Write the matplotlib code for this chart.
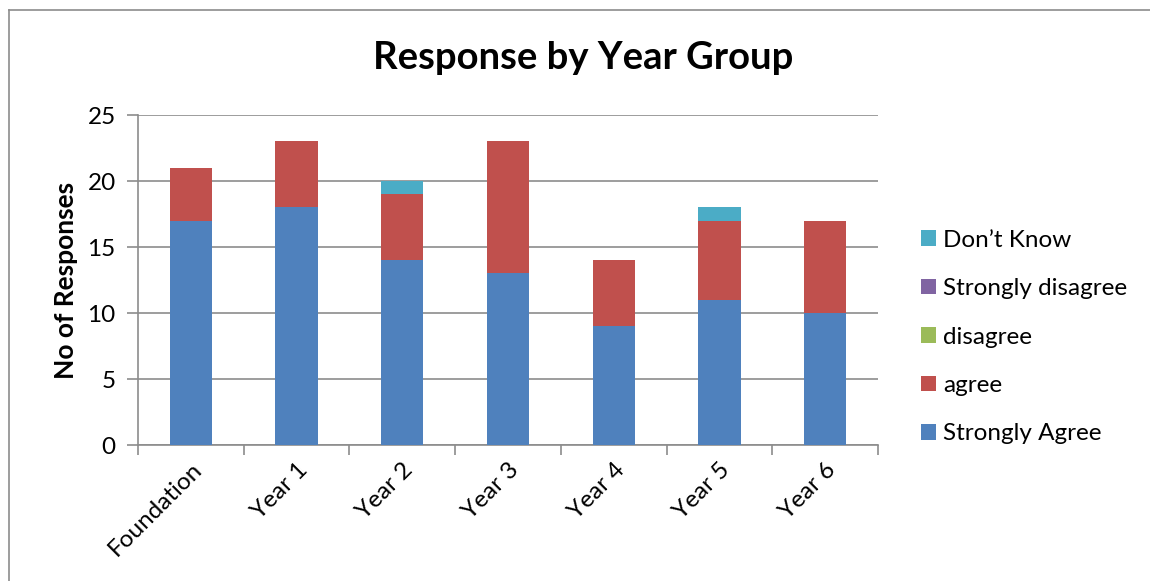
import matplotlib
matplotlib.use("Agg")
import matplotlib.pyplot as plt
from matplotlib.lines import Line2D

categories = ["Foundation", "Year 1", "Year 2", "Year 3", "Year 4", "Year 5", "Year 6"]
strongly_agree = [17, 18, 14, 13, 9, 11, 10]
agree = [4, 5, 5, 10, 5, 6, 7]
disagree = [0, 0, 0, 0, 0, 0, 0]
strongly_disagree = [0, 0, 0, 0, 0, 0, 0]
dont_know = [0, 0, 1, 0, 0, 1, 0]
series_names = ["Strongly Agree", "agree", "disagree", "Strongly disagree", "Don\u2019t Know"]
colors = ["#4F81BD", "#C0504D", "#9BBB59", "#8064A2", "#4BACC6"]

plt.rcParams['font.family'] = ['Lato', 'DejaVu Sans']

W, H = 1150, 581
fig = plt.figure(figsize=(W / 100, H / 100), dpi=100)
fig.patch.set_facecolor("white")

# outer chart border (only left and top visible)
fig.add_artist(Line2D([8.5 / W, 8.5 / W], [0, 1 - 9.5 / H], transform=fig.transFigure,
                      color="#8c8c8c", lw=1.2))
fig.add_artist(Line2D([8.5 / W, 1], [1 - 9.5 / H, 1 - 9.5 / H], transform=fig.transFigure,
                      color="#8c8c8c", lw=1.2))

left, right, top, bottom = 138, 878, 115, 445
ax = fig.add_axes([left / W, 1 - bottom / H, (right - left) / W, (bottom - top) / H])

x = list(range(len(categories)))
series = [strongly_agree, agree, disagree, strongly_disagree, dont_know]
base = [0] * len(categories)
handles = []
for vals, name, c in zip(series, series_names, colors):
    b = ax.bar(x, vals, bottom=base, width=0.4, color=c, label=name, zorder=3)
    handles.append(b)
    base = [p + q for p, q in zip(base, vals)]

ax.set_xlim(-0.5, len(categories) - 0.5)
ax.set_ylim(0, 25)
ax.set_yticks([0, 5, 10, 15, 20, 25])
ax.yaxis.grid(True, color="#8c8c8c", lw=1.2, zorder=0)
ax.set_axisbelow(True)
for s in ["top", "right"]:
    ax.spines[s].set_visible(False)
for s in ["left", "bottom"]:
    ax.spines[s].set_color("#8c8c8c")
    ax.spines[s].set_linewidth(1.2)

ax.tick_params(axis="y", length=8, width=1.2, color="#8c8c8c", labelsize=17.5, pad=8)
ax.set_xticks(x)
ax.set_xticklabels(categories, rotation=45, ha="right", rotation_mode="anchor", fontsize=17.5)
ax.tick_params(axis="x", length=0, pad=10)
ax.set_xticks([i - 0.5 for i in range(len(categories) + 1)], minor=True)
ax.tick_params(axis="x", which="minor", length=7, width=1.2, color="#8c8c8c")

ax.set_ylabel("No of Responses", fontsize=19, fontweight="bold", labelpad=7)

fig.text(583 / W, 1 - 58 / H, "Response by Year Group", ha="center", va="center",
         fontsize=27.5, fontweight="bold")

leg = fig.legend(handles[::-1], series_names[::-1], loc="center left",
                 bbox_to_anchor=(921 / W, 1 - 337 / H), frameon=False, fontsize=17.5,
                 handlelength=0.62, handleheight=0.62, handletextpad=0.3, labelspacing=1.13,
                 borderpad=0, borderaxespad=0)

fig.savefig("out.png", dpi=100, facecolor="white")
